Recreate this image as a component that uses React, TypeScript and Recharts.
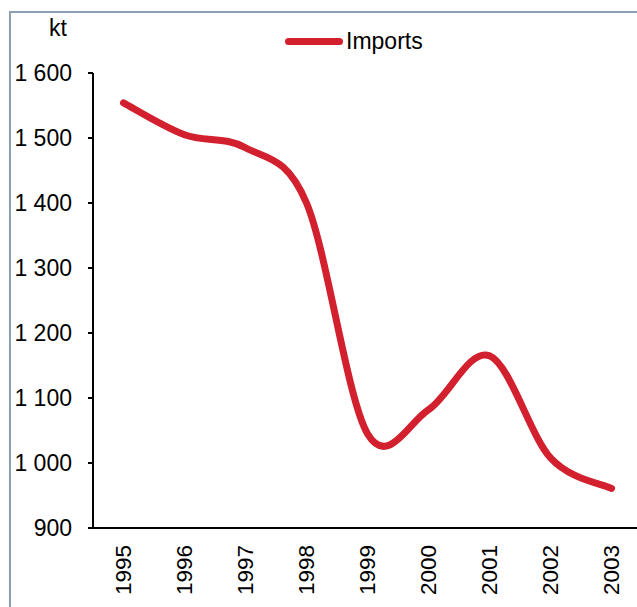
import * as React from "react"
import { LineChart, Line, XAxis, YAxis } from "recharts"

const years = ["1995", "1996", "1997", "1998", "1999", "2000", "2001", "2002", "2003"]
const imports = [1554, 1505, 1485, 1400, 1045, 1082, 1165, 1008, 961]
const yTicks = [900, 1000, 1100, 1200, 1300, 1400, 1500, 1600]

const data = years.map((year, i) => ({ year, imports: imports[i] }))

const FONT = "'Liberation Sans', Arial, sans-serif"
const RED = "#d2202f"

const fmt = (v: number) => {
  const s = String(v)
  return s.length > 3 ? s.slice(0, s.length - 3) + " " + s.slice(-3) : s
}

// spreadsheet-style smoothed line (Catmull-Rom through the points)
const smoothCurve = (context: any) => {
  let pts: number[][] = []
  return {
    areaStart() {},
    areaEnd() {},
    lineStart() {
      pts = []
    },
    lineEnd() {
      const n = pts.length
      if (!n) return
      context.moveTo(pts[0][0], pts[0][1])
      for (let i = 0; i < n - 1; i++) {
        const p0 = pts[Math.max(i - 1, 0)]
        const p1 = pts[i]
        const p2 = pts[i + 1]
        const p3 = pts[Math.min(i + 2, n - 1)]
        context.bezierCurveTo(
          p1[0] + (p2[0] - p0[0]) / 6,
          p1[1] + (p2[1] - p0[1]) / 6,
          p2[0] - (p3[0] - p1[0]) / 6,
          p2[1] - (p3[1] - p1[1]) / 6,
          p2[0],
          p2[1]
        )
      }
    },
    point(x: number, y: number) {
      pts.push([+x, +y])
    },
  }
}

const YearTick = (props: any) => {
  const { x, y, payload } = props
  return (
    <text
      x={x}
      y={y}
      transform={`rotate(-90, ${x}, ${y})`}
      textAnchor="end"
      dominantBaseline="central"
      fontSize={22.5}
      fontFamily={FONT}
      fill="#000"
    >
      {payload.value}
    </text>
  )
}

export default function App() {
  return (
    <div
      style={{
        position: "fixed",
        left: 0,
        top: 0,
        width: 637,
        height: 607,
        overflow: "hidden",
        background: "#fff",
      }}
    >
      <div
        style={{
          position: "absolute",
          left: 9,
          top: 11,
          right: -10,
          bottom: -10,
          borderLeft: "2px solid #8aa0b2",
          borderTop: "2px solid #8aa0b2",
        }}
      />
      <div
        style={{
          position: "absolute",
          left: 49,
          top: 15,
          fontFamily: FONT,
          fontSize: 23,
          color: "#000",
        }}
      >
        kt
      </div>
      <div
        style={{
          position: "absolute",
          left: 285,
          top: 28,
          display: "flex",
          alignItems: "center",
          fontFamily: FONT,
          fontSize: 23,
          color: "#000",
        }}
      >
        <span
          style={{
            display: "inline-block",
            width: 58,
            height: 7,
            borderRadius: 4,
            background: RED,
            marginRight: 3,
          }}
        />
        Imports
      </div>
      <div style={{ position: "absolute", left: 0, top: 0 }}>
        <LineChart
          width={642}
          height={607}
          data={data}
          margin={{ top: 73, right: 0, bottom: 0, left: 0 }}
        >
          <XAxis
            dataKey="year"
            height={79}
            padding={{ left: 30.5, right: 30.5 }}
            tickLine={false}
            axisLine={{ stroke: "#000", strokeWidth: 2 }}
            tick={<YearTick />}
            tickMargin={11}
            interval={0}
          />
          <YAxis
            width={93}
            domain={[900, 1600]}
            ticks={yTicks}
            tickFormatter={fmt}
            tickSize={5}
            tickMargin={16}
            axisLine={{ stroke: "#000", strokeWidth: 2 }}
            tickLine={{ stroke: "#000", strokeWidth: 2 }}
            tick={{ fontSize: 23, fontFamily: FONT, fill: "#000" }}
            interval={0}
          />
          <Line
            type={smoothCurve as any}
            dataKey="imports"
            stroke={RED}
            strokeWidth={7}
            strokeLinecap="round"
            dot={false}
            isAnimationActive={false}
          />
        </LineChart>
      </div>
    </div>
  )
}
